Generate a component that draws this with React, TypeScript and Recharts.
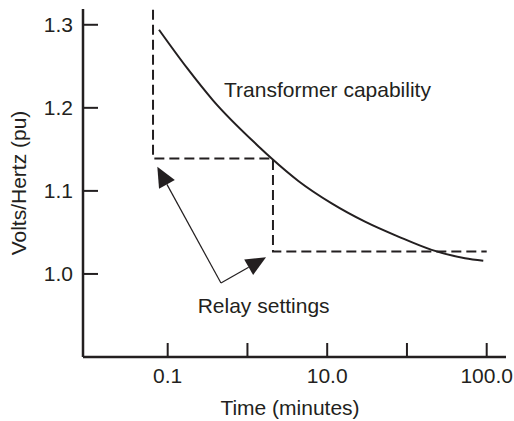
import React from "react";
import {
  LineChart,
  Line,
  XAxis,
  YAxis,
  ReferenceLine,
  ReferenceDot,
} from "recharts";

// Schematic time axis: tick index 1..5 (0.1, -, 10.0, -, 100.0 minutes)
const xTicks = [1, 2, 3, 4, 5];
const xTickLabels = ["0.1", "", "10.0", "", "100.0"];
const yTicks = [1.0, 1.1, 1.2, 1.3];
const yTickLabels = ["1.0", "1.1", "1.2", "1.3"];

// Transformer capability curve
const capT = [0.891, 1.242, 1.568, 2.157, 2.304, 2.638, 3.056, 3.474, 3.892, 4.31, 4.728, 4.957];
const capV = [1.294, 1.248, 1.209, 1.152, 1.139, 1.112, 1.085, 1.063, 1.045, 1.029, 1.019, 1.016];

// Relay settings (step line)
const relayT = [0.816, 0.816, 2.32, 2.32, 5.0];
const relayV = [1.318, 1.139, 1.139, 1.027, 1.027];

// Annotation arrows (from common origin to arrow tips)
const arrowOrigin = { t: 1.668, v: 0.989 };
const arrowTips = [
  { t: 0.87, v: 1.129 },
  { t: 2.233, v: 1.02 },
];

// Text annotations (start x, baseline y)
const notes = [
  { text: "Transformer capability", t: 1.706, v: 1.213 },
  { text: "Relay settings", t: 1.376, v: 0.9526 },
];

const capData = capT.map((t, i) => ({ t, v: capV[i] }));
const relayData = relayT.map((t, i) => ({ t, v: relayV[i] }));

const INK = "#231f20";
const FONT = "'Liberation Sans', Arial, Helvetica, sans-serif";
const FS = 21;

const ArrowShape = (props: any) => {
  const { x1, y1, x2, y2 } = props;
  const dx = x2 - x1;
  const dy = y2 - y1;
  const len = Math.sqrt(dx * dx + dy * dy) || 1;
  const ux = dx / len;
  const uy = dy / len;
  const hl = 20;
  const hw = 9;
  const bx = x2 - ux * hl;
  const by = y2 - uy * hl;
  const px = -uy;
  const py = ux;
  const pts = `${x2},${y2} ${bx + px * hw},${by + py * hw} ${bx - px * hw},${by - py * hw}`;
  return (
    <g>
      <line x1={x1} y1={y1} x2={bx} y2={by} stroke={INK} strokeWidth={1.2} />
      <polygon points={pts} fill={INK} stroke="none" />
    </g>
  );
};

const makeTextShape = (text: string) => (props: any) => (
  <text
    x={props.cx}
    y={props.cy}
    textAnchor="start"
    fontFamily={FONT}
    fontSize={FS}
    fill={INK}
  >
    {text}
  </text>
);

export default function App() {
  return (
    <div style={{ position: "absolute", left: 0, top: 0, width: 514, height: 421 }}>
      <LineChart
        width={514}
        height={421}
        margin={{ top: 9, right: 8, left: 8, bottom: 0 }}
        style={{ fontFamily: FONT }}
      >
        <XAxis
          dataKey="t"
          type="number"
          domain={[-0.062, 5.242]}
          ticks={xTicks}
          interval={0}
          allowDataOverflow
          tickFormatter={(v: number) => xTickLabels[xTicks.indexOf(v)] ?? ""}
          height={64}
          tickSize={-14}
          tickMargin={25}
          axisLine={{ stroke: INK, strokeWidth: 2.5 }}
          tickLine={{ stroke: INK, strokeWidth: 2 }}
          tick={{ fill: INK, fontSize: FS, fontFamily: FONT }}
          label={{
            value: "Time (minutes)",
            position: "center",
            dx: -4.5,
            dy: 19,
            fill: INK,
            fontSize: FS,
            fontFamily: FONT,
          }}
        />
        <YAxis
          dataKey="v"
          type="number"
          domain={[0.9, 1.319]}
          ticks={yTicks}
          interval={0}
          allowDataOverflow
          tickFormatter={(v: number) => yTickLabels[yTicks.indexOf(v)] ?? ""}
          width={75}
          tickSize={-15}
          tickMargin={25}
          axisLine={{ stroke: INK, strokeWidth: 2.5 }}
          tickLine={{ stroke: INK, strokeWidth: 2 }}
          tick={{ fill: INK, fontSize: FS, fontFamily: FONT }}
          label={{
            value: "Volts/Hertz (pu)",
            angle: -90,
            position: "center",
            dx: -27,
            fill: INK,
            fontSize: FS,
            fontFamily: FONT,
          }}
        />
        <Line
          data={relayData}
          dataKey="v"
          type="linear"
          stroke={INK}
          strokeWidth={2}
          strokeDasharray="10 5"
          dot={false}
          activeDot={false}
          isAnimationActive={false}
        />
        <Line
          data={capData}
          dataKey="v"
          type="monotone"
          stroke={INK}
          strokeWidth={2}
          dot={false}
          activeDot={false}
          isAnimationActive={false}
        />
        {arrowTips.map((tip, i) => (
          <ReferenceLine
            key={`arrow-${i}`}
            segment={[
              { x: arrowOrigin.t, y: arrowOrigin.v },
              { x: tip.t, y: tip.v },
            ]}
            shape={ArrowShape}
          />
        ))}
        {notes.map((n, i) => (
          <ReferenceDot
            key={`note-${i}`}
            x={n.t}
            y={n.v}
            r={0}
            shape={makeTextShape(n.text)}
          />
        ))}
      </LineChart>
    </div>
  );
}
